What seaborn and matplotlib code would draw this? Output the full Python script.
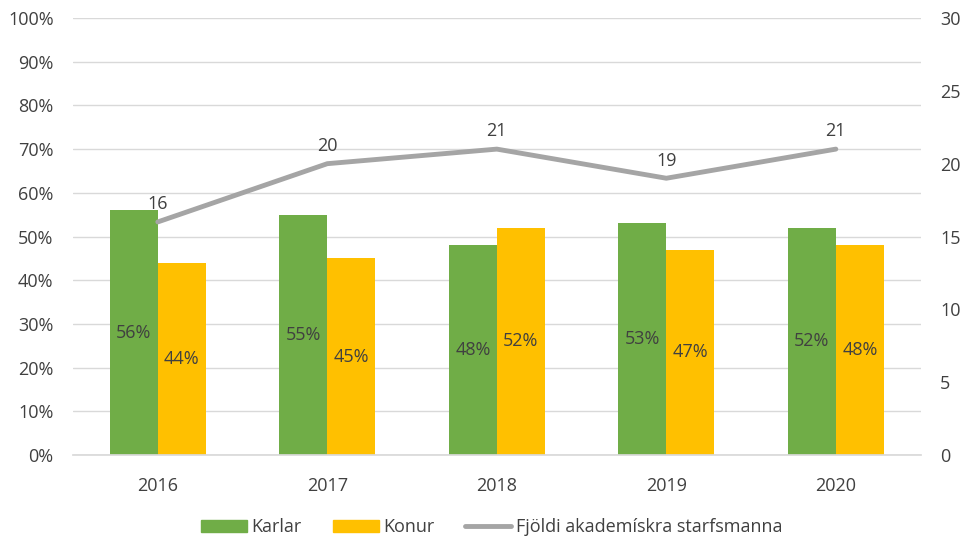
import matplotlib
matplotlib.use("Agg")
import matplotlib.pyplot as plt
import seaborn as sns
import numpy as np
import pandas as pd
from matplotlib.ticker import FuncFormatter
from matplotlib.patches import Patch
from matplotlib.lines import Line2D

years = ["2016", "2017", "2018", "2019", "2020"]
karlar = [56, 55, 48, 53, 52]
konur = [44, 45, 52, 47, 48]
fjoldi = [16, 20, 21, 19, 21]
series_names = ["Karlar", "Konur"]
line_name = "Fjöldi akademískra starfsmanna"

GREEN = "#70AD47"
YELLOW = "#FFC000"
GRAY = "#A5A5A5"
TXT = "#404040"
FS = 13

sns.set_theme(style="white")
plt.rcParams["font.family"] = ["Open Sans", "DejaVu Sans"]

df = pd.DataFrame({
    "year": years * 2,
    "value": karlar + konur,
    "sex": [series_names[0]] * 5 + [series_names[1]] * 5,
})

fig = plt.figure(figsize=(9.66, 5.38), dpi=100)
ax = fig.add_axes([0.0756, 0.1543, 0.8774, 0.8122])

sns.barplot(data=df, x="year", y="value", hue="sex", order=years,
            hue_order=series_names, palette=[GREEN, YELLOW],
            width=0.566, gap=0, ax=ax, legend=False, saturation=1,
            linewidth=0)

for cont in ax.containers:
    for rect in cont:
        h = rect.get_height()
        ax.text(rect.get_x() + rect.get_width() / 2, h / 2, f"{h:.0f}%",
                ha="center", va="center", fontsize=FS, color=TXT)

ax.set_ylim(0, 100)
ax.set_xlim(-0.5, 4.5)
ax.set_yticks(np.arange(0, 101, 10))
ax.yaxis.set_major_formatter(FuncFormatter(lambda v, p: f"{v:.0f}%"))
ax.grid(axis="y", color="#D9D9D9", linewidth=1)
ax.set_axisbelow(True)
for s in ["top", "left", "right"]:
    ax.spines[s].set_visible(False)
ax.spines["bottom"].set_color("#D9D9D9")
ax.set_xlabel("")
ax.set_ylabel("")
ax.tick_params(axis="y", length=0, labelsize=FS, colors=TXT, pad=14)
ax.tick_params(axis="x", length=0, labelsize=FS, colors=TXT, pad=16)

ax2 = ax.twinx()
sns.lineplot(x=np.arange(len(years)), y=fjoldi, ax=ax2, color=GRAY,
             linewidth=3.5, legend=False)
for i, v in enumerate(fjoldi):
    ax2.text(i, v + 0.6, f"{v}", ha="center", va="bottom", fontsize=FS, color=TXT)
ax2.set_ylim(0, 30)
ax2.set_yticks(np.arange(0, 31, 5))
for s in ["top", "left", "right", "bottom"]:
    ax2.spines[s].set_visible(False)
ax2.tick_params(axis="y", length=0, labelsize=FS, colors=TXT, pad=14)
ax2.set_ylabel("")

handles = [Patch(color=GREEN, label=series_names[0]),
           Patch(color=YELLOW, label=series_names[1]),
           Line2D([0], [0], color=GRAY, linewidth=3.5, label=line_name)]
fig.legend(handles=handles, loc="center", bbox_to_anchor=(0.509, 11 / 538),
           ncol=3, frameon=False, fontsize=FS, labelcolor=TXT,
           handlelength=2.55, handleheight=0.67, columnspacing=1.7,
           handletextpad=0.25)

fig.savefig("out.png", dpi=100)
